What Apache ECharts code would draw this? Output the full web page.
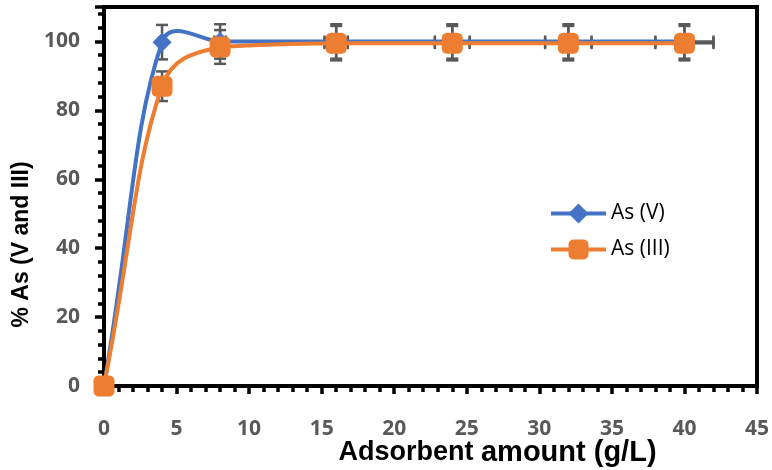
<!DOCTYPE html>
<html>
<head>
<meta charset="utf-8">
<script src="https://cdn.jsdelivr.net/npm/echarts@6/dist/echarts.min.js"></script>
<style>
  html, body { margin: 0; padding: 0; background: #fff; }
  #chart { width: 772px; height: 470px; }
</style>
</head>
<body>
<div id="chart"></div>
<script>
// adsorbent amount (g/L)
const dose = [0, 4, 8, 16, 24, 32, 40];
// % removal
const asV = [0, 99.8, 100, 100, 100, 100, 100];
const asIII = [0, 87, 98.4, 99.5, 99.5, 99.5, 99.5];
// error bars
const errYV = [0, 5, 5, 5, 5, 5, 5];
const errYIII = [0, 4.3, 4.9, 5, 5, 5, 5];
const errX = [0, 0.2, 0.4, 0.8, 1.2, 1.6, 2.0];

const xTicks = [0, 5, 10, 15, 20, 25, 30, 35, 40, 45];
const yTicks = [0, 20, 40, 60, 80, 100];

const BLUE = '#4472C4';
const ORANGE = '#ED7D31';

const chart = echarts.init(document.getElementById('chart'));

function pairs(ys) {
  return dose.map((x, i) => [x, ys[i]]);
}

function errData(ys, ey) {
  return dose.map((x, i) => [x, ys[i], errX[i], ey[i]]);
}

function renderErr(params, api) {
  const x = api.value(0);
  const y = api.value(1);
  const ex = api.value(2);
  const ey = api.value(3);
  if (!ex && !ey) return null;
  const top = api.coord([x, y + ey]);
  const bot = api.coord([x, y - ey]);
  const lft = api.coord([x - ex, y]);
  const rgt = api.coord([x + ex, y]);
  const cap = 6;
  const st = { stroke: '#595959', lineWidth: 2.5 };
  const lines = [
    [top[0], top[1], bot[0], bot[1]],
    [top[0] - cap, top[1], top[0] + cap, top[1]],
    [bot[0] - cap, bot[1], bot[0] + cap, bot[1]],
    [lft[0], lft[1], rgt[0], rgt[1]],
    [lft[0], lft[1] - cap, lft[0], lft[1] + cap],
    [rgt[0], rgt[1] - cap, rgt[0], rgt[1] + cap],
  ];
  return {
    type: 'group',
    children: lines.map((l) => ({
      type: 'line',
      shape: { x1: l[0], y1: l[1], x2: l[2], y2: l[3] },
      style: st,
    })),
  };
}

// spreadsheet-style smoothed line (may overshoot, unlike echarts' clamped smoothing)
function curveRenderer(ys, color, clamp) {
  return function (params, api) {
    if (params.dataIndex !== 0) return null;
    const p = dose.map((x, i) => api.coord([x, ys[i]]));
    const n = p.length;
    const s = 0.5;
    const cps = [];
    for (let i = 0; i < n; i++) {
      const prev = p[Math.max(i - 1, 0)];
      const next = p[Math.min(i + 1, n - 1)];
      const vx = next[0] - prev[0];
      const vy = next[1] - prev[1];
      const dPrev = i > 0 ? Math.hypot(p[i][0] - prev[0], p[i][1] - prev[1]) : 0;
      const dNext = i < n - 1 ? Math.hypot(next[0] - p[i][0], next[1] - p[i][1]) : 0;
      const tot = dPrev + dNext || 1;
      const rn = dNext / tot;
      const rp = dPrev / tot;
      const cin = [p[i][0] - vx * s * rp * 0.6, p[i][1] - vy * s * rp * 0.6];
      const cout = [p[i][0] + vx * s * rn, p[i][1] + vy * s * rn];
      if (clamp) {
        cin[1] = Math.min(Math.max(cin[1], Math.min(prev[1], p[i][1])), Math.max(prev[1], p[i][1]));
        cout[1] = Math.min(Math.max(cout[1], Math.min(next[1], p[i][1])), Math.max(next[1], p[i][1]));
      }
      cps.push({ in: cin, out: cout });
    }
    let d = 'M' + p[0][0] + ' ' + p[0][1];
    for (let i = 0; i < n - 1; i++) {
      const a = cps[i].out;
      const b = cps[i + 1].in;
      d += ' C' + a[0] + ' ' + a[1] + ' ' + b[0] + ' ' + b[1] + ' ' + p[i + 1][0] + ' ' + p[i + 1][1];
    }
    return {
      type: 'path',
      shape: { pathData: d },
      style: { stroke: color, lineWidth: 4, fill: null, lineJoin: 'round', lineCap: 'round' },
    };
  };
}

const labelFont = {
  color: '#595959',
  fontSize: 21,
  fontWeight: 'bold',
  fontFamily: 'Open Sans',
};

const axisLineBlack = { show: true, onZero: false, lineStyle: { color: '#000', width: 4 } };
const tickBlack = { color: '#000', width: 3.5 };

const option = {
  animation: false,
  grid: {
    left: 104,
    right: 15,
    top: 7,
    bottom: 84,
    outerBoundsMode: 'none',
    show: true,
    borderColor: '#000',
    borderWidth: 4,
  },
  legend: {
    orient: 'vertical',
    left: 544,
    top: 198,
    itemWidth: 55,
    itemHeight: 25,
    itemGap: 15,
    lineStyle: { width: 4, opacity: 1 },
    textStyle: {
      fontSize: 21,
      color: '#000',
      fontFamily: 'Open Sans',
    },
    data: [
      { name: 'As (V)', lineStyle: { width: 4, opacity: 1, color: BLUE } },
      { name: 'As (III)', lineStyle: { width: 4, opacity: 1, color: ORANGE } },
    ],
  },
  xAxis: {
    type: 'value',
    min: 0,
    max: 45,
    interval: 5,
    name: '{a|Adsorbent }{b|amount (g/L)}',
    nameLocation: 'middle',
    nameGap: 52,
    nameMoveOverlap: false,
    nameTextStyle: {
      padding: [0, 0, 0, 134],
      rich: {
        a: { fontSize: 27, fontWeight: 'bold', color: '#000', fontFamily: 'Liberation Sans' },
        b: { fontSize: 29, fontWeight: 'bold', color: '#000', fontFamily: 'Liberation Sans' },
      },
    },
    axisLine: axisLineBlack,
    axisTick: { show: true, length: 8, lineStyle: tickBlack },
    minorTick: { show: true, splitNumber: 5, length: 6, lineStyle: tickBlack },
    splitLine: { show: false },
    axisLabel: Object.assign({ margin: 33, formatter: (v) => (xTicks.includes(v) ? v : '') }, labelFont),
  },
  yAxis: {
    type: 'value',
    min: 0,
    max: 110,
    interval: 20,
    name: '% As (V and III)',
    nameLocation: 'middle',
    nameGap: 67,
    nameTextStyle: {
      fontSize: 23,
      fontWeight: 'bold',
      color: '#000',
      fontFamily: 'Liberation Sans',
      padding: [0, 96, 0, 0],
    },
    axisLine: axisLineBlack,
    axisTick: { show: true, length: 9, lineStyle: tickBlack },
    minorTick: { show: true, splitNumber: 5, length: 6, lineStyle: tickBlack },
    splitLine: { show: false },
    axisLabel: Object.assign({
      margin: 24,
      showMaxLabel: false,
      formatter: (v) => (yTicks.includes(v) ? v : ''),
    }, labelFont),
  },
  series: [
    {
      type: 'custom',
      name: 'errV',
      renderItem: renderErr,
      data: errData(asV, errYV),
      z: 1,
      silent: true,
    },
    {
      type: 'custom',
      name: 'errIII',
      renderItem: renderErr,
      data: errData(asIII, errYIII),
      z: 1,
      silent: true,
    },
    {
      type: 'custom',
      name: 'curveV',
      renderItem: curveRenderer(asV, BLUE, false),
      data: pairs(asV),
      z: 2,
      silent: true,
    },
    {
      type: 'custom',
      name: 'curveIII',
      renderItem: curveRenderer(asIII, ORANGE, true),
      data: pairs(asIII),
      z: 2,
      silent: true,
    },
    {
      name: 'As (V)',
      type: 'line',
      data: pairs(asV),
      symbol: 'diamond',
      symbolSize: 19,
      color: BLUE,
      lineStyle: { width: 4, color: BLUE, opacity: 0 },
      itemStyle: { color: BLUE },
      z: 3,
    },
    {
      name: 'As (III)',
      type: 'line',
      data: pairs(asIII),
      symbol: 'roundRect',
      symbolSize: 21,
      color: ORANGE,
      lineStyle: { width: 4, color: ORANGE, opacity: 0 },
      itemStyle: { color: ORANGE },
      z: 4,
    },
  ],
};

chart.setOption(option);
</script>
</body>
</html>
